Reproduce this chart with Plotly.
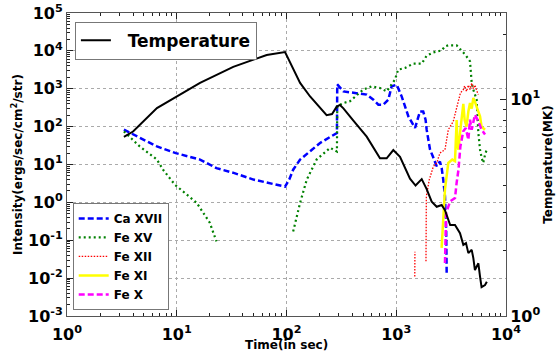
import plotly.graph_objects as go
import numpy as np

# ---------------- data ----------------
temp_t = [3.3, 4.0, 6.6, 9.8, 16.3, 32.7, 66, 97, 108, 133, 164, 232, 260, 287, 307, 330, 405, 538, 711, 818, 940, 1082,
          1334, 1500, 1706, 1893, 2104, 2337, 2594, 2780, 3100, 3430, 3810, 4085, 4320, 4540, 4870, 5040, 5210, 5600,
          5800, 5990, 6440, 6690]
temp_T = [6.7, 7.1, 9.1, 10.2, 11.9, 14.1, 16.0, 16.5, 14.7, 11.9, 10.3, 8.45, 8.55, 9.25, 9.41, 9.08, 8.0, 6.72, 5.34,
          5.34, 5.83, 5.43, 4.3, 4.0, 4.28, 3.85, 3.37, 3.19, 3.25, 3.08, 2.63, 2.63, 2.41, 2.13, 2.17, 1.95, 2.02, 1.85,
          1.63, 1.75, 1.52, 1.36, 1.39, 1.44]

ca17_t = [3.3, 4.6, 6.6, 9.8, 16.3, 23, 33, 50, 87, 97, 106, 115, 133, 164, 202, 288, 290, 330, 421, 538, 619, 687,
          762, 847, 908, 1010, 1120, 1290, 1483, 1645, 1760, 1850, 1893, 2030, 2180, 2337, 2500, 2594, 2680, 2780, 2850,
          2880]
ca17_I = [83, 50, 30, 20, 13.5, 8.0, 6.0, 4.0, 2.75, 2.6, 4.0, 7.3, 13.5, 22, 37, 68, 1300, 850, 780, 700, 515, 380,
          380, 515, 1160, 1280, 630, 186, 92, 250, 250, 153, 83, 25, 15, 9, 12, 8, 4, 1.45, 0.19, 0.0138]

fe15_t = [3.3, 4.6, 6.6, 7.5, 9.6, 15.2, 20, 23, None, 115, 133, 153, 188, 250, 288, 290, 330, 379, 500, 597, 710, 818,
          908, 973, 1040, 1200, 1430, 1706, 1893, 2180, 2594, 2780, 2980, 3550, 3990, 4260, 4700, 4800, 4870, 5040,
          5400, 5600, 5800, 6000, 6200, 6440, 6670]
fe15_I = [75, 30, 13.5, 7.3, 2.95, 0.97, 0.29, 0.093, None, 0.17, 0.97, 4.0, 13.5, 27.5, 22, 345, 420, 470, 950, 1160,
          1050, 850, 1280, 1740, 3200, 3540, 4600, 4600, 7460, 9100, 10300, 13200, 14000, 14000, 9700, 7900, 5300,
          2600, 1420, 946, 515, 68, 24.7, 15, 11, 18, 24.7]

fe12_t = [1475, 1480, None, 1866, 1880, 2000, 2180, 2340, 2497, 2780, 2980, 3310, 3680, 3840, 4085, 4200, 4370, 4540,
          4700, 4870, 5040, 5210, 5400, 5600]
fe12_I = [0.011, 0.05, None, 0.028, 1.45, 4.0, 8.9, 11, 20, 24.7, 83, 138, 516, 770, 950, 1200, 850, 1250, 950, 1400,
          1000, 1250, 900, 700]

fe11_t = [2590, 2640, 2680, 2780, 2980, 3240, 3430, 3550, 3620, 3690, 3840, 3990, 4085, 4200, 4370, 4540, 4700, 4870,
          5040, 5210, 5400, 5600, 5800, 5990, 6440]
fe11_I = [0.063, 0.2, 0.53, 2.2, 11, 13.5, 12.3, 150, 30, 24.7, 83, 280, 400, 150, 100, 250, 420, 300, 570, 450, 350,
          250, 186, 100, 83]

fe10_t = [2780, 2850, 3100, 3430, 3550, 3690, 3840, 4080, 4300, 4540, 4700, 4870, 5210, 5600, 5990, 6440]
fe10_I = [0.025, 0.53, 1.07, 1.3, 3.3, 7.3, 30, 75, 92, 45, 153, 83, 207, 138, 83, 62]

x_ticks = [1, 10, 100, 1000, 10000]
x_ticktext = ["10<sup>0</sup>", "10<sup>1</sup>", "10<sup>2</sup>", "10<sup>3</sup>", "10<sup>4</sup>"]
y_ticks = [1e-3, 1e-2, 1e-1, 1, 10, 100, 1e3, 1e4, 1e5]
y_ticktext = ["10<sup>-3</sup>", "10<sup>-2</sup>", "10<sup>-1</sup>", "10<sup>0</sup>", "10<sup>1</sup>",
              "10<sup>2</sup>", "10<sup>3</sup>", "10<sup>4</sup>", "10<sup>5</sup>"]
y2_ticks = [1, 10]
y2_ticktext = ["10<sup>0</sup>", "10<sup>1</sup>"]
x_minor = [m * 10 ** k for k in range(0, 4) for m in range(2, 10)]
y_minor = [m * 10.0 ** k for k in range(-3, 5) for m in range(2, 10)]
y2_minor = [2, 3, 4, 5, 6, 7, 8, 9, 20]

X_RANGE = [0, 4]
Y_RANGE = [-3, 5]
Y2_RANGE = [0, float(np.log10(25))]

# ---------------- figure ----------------
FONT = "DejaVu Sans"
fig = go.Figure()

series = [
    ("Ca XVII", ca17_t, ca17_I, "#0000ff", 2.5, "6px,3px"),
    ("Fe XV", fe15_t, fe15_I, "#008000", 2.2, "2px,3px"),
    ("Fe XII", fe12_t, fe12_I, "#ff0000", 1.3, "1.5px,1.5px"),
    ("Fe XI", fe11_t, fe11_I, "#ffff00", 2.5, "solid"),
    ("Fe X", fe10_t, fe10_I, "#ff00ff", 2.5, "6px,3px"),
]
for name, t, v, c, w, d in series:
    fig.add_trace(go.Scatter(x=t, y=v, name=name, mode="lines", connectgaps=False,
                             line=dict(color=c, width=w, dash=d), legend="legend2"))

fig.add_trace(go.Scatter(x=temp_t, y=temp_T, name="\u00a0\u00a0Temperature", mode="lines", yaxis="y2",
                         line=dict(color="black", width=2), legend="legend"))

# empty helper traces so the minor-tick axes exist
fig.add_trace(go.Scatter(x=[], y=[], xaxis="x2", yaxis="y3", showlegend=False, hoverinfo="skip"))
fig.add_trace(go.Scatter(x=[], y=[], xaxis="x2", yaxis="y4", showlegend=False, hoverinfo="skip"))

tfont = dict(family=FONT, size=16, color="black", weight="bold")
major = dict(type="log", ticks="inside", ticklen=6, tickwidth=1, tickcolor="#222222",
             showline=True, linecolor="#555555", linewidth=1, automargin=False,
             tickfont=tfont, zeroline=False, tickmode="array")
minor_ax = dict(type="log", ticks="inside", ticklen=3, tickwidth=1, tickcolor="#222222",
                showline=False, automargin=False, showticklabels=False, showgrid=False,
                zeroline=False, tickmode="array")

fig.update_layout(
    width=557, height=351,
    margin=dict(l=67, r=51, t=13, b=35),
    paper_bgcolor="white", plot_bgcolor="white",
    xaxis=dict(**major, range=X_RANGE, tickvals=x_ticks, ticktext=x_ticktext,
               mirror="ticks", showgrid=True, gridcolor="#aaaaaa", griddash="dot", gridwidth=1,
               ticklabelstandoff=4),
    xaxis2=dict(**minor_ax, range=X_RANGE, tickvals=x_minor, overlaying="x", side="bottom",
                mirror="ticks", anchor="y3"),
    yaxis=dict(**major, range=Y_RANGE, tickvals=y_ticks, ticktext=y_ticktext,
               showgrid=True, gridcolor="#aaaaaa", griddash="dot", gridwidth=1,
               ticklabelstandoff=0,
               title=dict(text="Intensity(ergs/sec/cm<sup>2</sup>/str)",
                          font=dict(family=FONT, size=12, color="black", weight="bold"), standoff=2)),
    yaxis2=dict(**major, overlaying="y", side="right", range=Y2_RANGE,
                tickvals=y2_ticks, ticktext=y2_ticktext, showgrid=False,
                title=dict(text="Temperature(MK)", font=dict(family=FONT, size=12, color="black", weight="bold"),
                           standoff=4)),
    yaxis3=dict(**minor_ax, range=Y_RANGE, tickvals=y_minor, overlaying="y", side="left", anchor="x2"),
    yaxis4=dict(**minor_ax, range=Y2_RANGE, tickvals=y2_minor, overlaying="y", side="right", anchor="x2"),
    annotations=[dict(text="Time(in sec)", xref="paper", yref="paper", x=0.5, y=-0.097,
                      xanchor="center", yanchor="middle", showarrow=False,
                      font=dict(family=FONT, size=12, color="black", weight="bold"))],
    showlegend=True,
    legend=dict(x=0.018, y=0.971, xanchor="left", yanchor="top", bgcolor="white",
                bordercolor="#777777", borderwidth=1,
                font=dict(family=FONT, size=17, color="black", weight="bold")),
    legend2=dict(x=0.013, y=0.02, xanchor="left", yanchor="bottom", bgcolor="white",
                 bordercolor="#777777", borderwidth=1, tracegroupgap=0,
                 font=dict(family=FONT, size=12, color="black", weight="bold")),
)

fig.write_html("out.html")
